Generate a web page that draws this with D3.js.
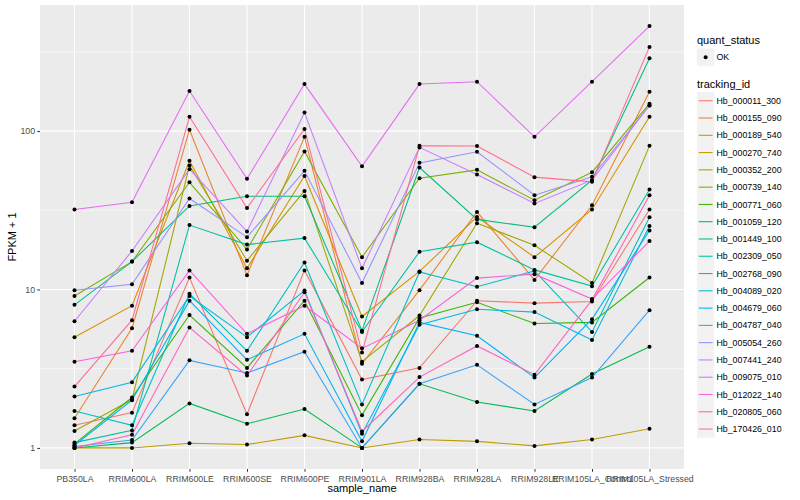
<!DOCTYPE html>
<html>
<head>
<meta charset="utf-8">
<script src="https://cdn.jsdelivr.net/npm/d3@7"></script>
<style>
  body { margin: 0; background: #fff; }
  text { font-family: "Liberation Sans", Arial, sans-serif; }
</style>
</head>
<body>
<div id="chart"></div>
<script>
// FPKM + 1 per sample, one line per tracking_id (log10 y)
const sampleNames = ["PB350LA", "RRIM600LA", "RRIM600LE", "RRIM600SE", "RRIM600PE", "RRIM901LA",
  "RRIM928BA", "RRIM928LA", "RRIM928LE", "RRIM105LA_Control", "RRIM105LA_Stressed"];

const trackingIds = ["Hb_000011_300", "Hb_000155_090", "Hb_000189_540", "Hb_000270_740", "Hb_000352_200",
  "Hb_000739_140", "Hb_000771_060", "Hb_001059_120", "Hb_001449_100", "Hb_002309_050",
  "Hb_002768_090", "Hb_004089_020", "Hb_004679_060", "Hb_004787_040", "Hb_005054_260",
  "Hb_007441_240", "Hb_009075_010", "Hb_012022_140", "Hb_020805_060", "Hb_170426_010"];

// rows follow trackingIds, columns follow sampleNames
const fpkmPlusOne = [
  [1.39, 1.67, 11.9, 1.63, 13.2, 2.7, 3.2, 8.5, 8.2, 8.4, 32],
  [1.54, 5.7, 102, 12.3, 92, 3.4, 9.9, 30.9, 11.5, 34, 177],
  [5.0, 7.9, 64.9, 13.6, 52.1, 6.75, 13, 28.7, 16, 32, 123],
  [1.0, 1.0, 1.07, 1.05, 1.2, 1.0, 1.13, 1.1, 1.03, 1.13, 1.32],
  [1.28, 2.02, 60.7, 15.2, 41.9, 3.5, 6.85, 26.2, 19, 11, 80.7],
  [9.1, 15, 47.5, 17.9, 74.4, 16, 50.4, 56.9, 36.6, 55, 149],
  [1.06, 2.08, 6.9, 3.2, 8.5, 1.61, 6.6, 8.3, 6.1, 6.2, 11.9],
  [1.0, 1.08, 1.91, 1.42, 1.76, 1.0, 2.54, 1.95, 1.71, 2.93, 4.35],
  [8.0, 15, 33.7, 38.8, 38.8, 5.5, 58.9, 27.7, 24.7, 49, 288],
  [1.08, 1.29, 25.5, 19.2, 21.1, 5.4, 17.3, 19.9, 13.3, 10.5, 42.8],
  [1.71, 1.39, 9.4, 4.1, 14.8, 1.88, 12.9, 10.4, 13.1, 5.4, 28.6],
  [2.11, 2.6, 9.1, 5.0, 9.85, 1.23, 6.0, 7.5, 7.2, 4.8, 25.2],
  [1.04, 2.0, 8.5, 3.6, 5.25, 1.1, 6.2, 5.1, 2.78, 6.5, 23.6],
  [1.02, 1.12, 3.57, 2.97, 4.05, 1.0, 2.54, 3.35, 1.88, 2.78, 7.4],
  [9.9, 10.8, 37.5, 21.4, 56.1, 11, 63, 74, 39.4, 51.4, 145],
  [6.3, 17.5, 57.5, 23.2, 131, 13.6, 78.9, 53.2, 34.9, 49, 145],
  [32, 35.5, 179, 50, 198, 60, 198, 205, 92, 205, 460],
  [3.5, 4.1, 13.2, 5.25, 7.9, 4.25, 6.4, 11.8, 12.5, 8.7, 20.2],
  [1.0, 1.21, 5.75, 2.86, 9.6, 1.27, 2.8, 4.4, 2.9, 8.6, 39.4],
  [2.44, 6.4, 123, 32.7, 103, 4.0, 80.7, 80.5, 51.2, 47.8, 340]
];

const yTicks = [1, 10, 100];
const quantStatus = ["OK"];

// ggplot default hue palette for 20 levels
const palette = ["#F8766D", "#EA8331", "#D89000", "#C09B00", "#A3A500", "#7CAE00", "#39B600", "#00BB4E",
  "#00BF7D", "#00C1A3", "#00BFC4", "#00BAE0", "#00B0F6", "#35A2FF", "#9590FF", "#C77CFF",
  "#E76BF3", "#FA62DB", "#FF62BC", "#FF6C91"];

const W = 800, H = 500;
const panel = { left: 40, right: 684, top: 5, bottom: 469 };

const svg = d3.select("#chart").append("svg")
  .attr("width", W).attr("height", H);

const x = d3.scalePoint()
  .domain(sampleNames)
  .range([panel.left, panel.right])
  .padding(0.6);

// 5% expansion on log scale, like ggplot
const allVals = fpkmPlusOne.flat();
const lo = Math.log10(d3.min(allVals)), hi = Math.log10(d3.max(allVals));
const ex = (hi - lo) * 0.05;
const y = d3.scaleLog()
  .domain([Math.pow(10, lo - ex), Math.pow(10, hi + ex)])
  .range([panel.bottom, panel.top]);

svg.append("rect")
  .attr("x", panel.left).attr("y", panel.top)
  .attr("width", panel.right - panel.left).attr("height", panel.bottom - panel.top)
  .attr("fill", "#EBEBEB");

// minor grid at half decades
const minor = [Math.pow(10, -0.5), Math.pow(10, 0.5), Math.pow(10, 1.5), Math.pow(10, 2.5)]
  .filter(v => v > y.domain()[0] && v < y.domain()[1]);
svg.append("g").selectAll("line").data(minor).join("line")
  .attr("x1", panel.left).attr("x2", panel.right)
  .attr("y1", d => y(d)).attr("y2", d => y(d))
  .attr("stroke", "#fff").attr("stroke-width", 0.55);

svg.append("g").selectAll("line").data(yTicks).join("line")
  .attr("x1", panel.left).attr("x2", panel.right)
  .attr("y1", d => y(d)).attr("y2", d => y(d))
  .attr("stroke", "#fff").attr("stroke-width", 1.1);

svg.append("g").selectAll("line").data(sampleNames).join("line")
  .attr("x1", d => x(d)).attr("x2", d => x(d))
  .attr("y1", panel.top).attr("y2", panel.bottom)
  .attr("stroke", "#fff").attr("stroke-width", 1.1);

// axes
const yAxis = svg.append("g")
  .attr("transform", `translate(${panel.left},0)`)
  .call(d3.axisLeft(y).tickValues(yTicks).tickFormat(d3.format("d")).tickSize(2.75).tickPadding(2.2));
const xAxis = svg.append("g")
  .attr("transform", `translate(0,${panel.bottom})`)
  .call(d3.axisBottom(x).tickSize(2.75).tickPadding(2.2));
[xAxis, yAxis].forEach(g => {
  g.select(".domain").remove();
  g.selectAll(".tick line").attr("stroke", "#333").attr("stroke-width", 1);
  g.selectAll(".tick text").attr("fill", "#4D4D4D").style("font-size", "8.8px");
});
xAxis.selectAll(".tick text").attr("dy", "0.9em");

svg.append("text")
  .attr("x", (panel.left + panel.right) / 2).attr("y", 492)
  .attr("text-anchor", "middle").style("font-size", "11px").attr("fill", "#000")
  .text("sample_name");

svg.append("text")
  .attr("transform", `translate(16,${(panel.top + panel.bottom) / 2}) rotate(-90)`)
  .attr("text-anchor", "middle").style("font-size", "11px").attr("fill", "#000")
  .text("FPKM + 1");

// lines then points
const line = d3.line()
  .x((d, i) => x(sampleNames[i]))
  .y(d => y(d));

svg.append("g").selectAll("path").data(fpkmPlusOne).join("path")
  .attr("d", line)
  .attr("fill", "none")
  .attr("stroke", (d, i) => palette[i])
  .attr("stroke-width", 1.07);

const pts = fpkmPlusOne.flatMap(row => row.map((v, i) => ({ s: sampleNames[i], v })));
svg.append("g").selectAll("circle").data(pts).join("circle")
  .attr("cx", d => x(d.s)).attr("cy", d => y(d.v))
  .attr("r", 2).attr("fill", "#000");

// legends
const lg = svg.append("g").attr("transform", "translate(697,0)");
const key = 17.28;

lg.append("text").attr("x", 0).attr("y", 44)
  .style("font-size", "11px").text("quant_status");
const q = lg.append("g").selectAll("g").data(quantStatus).join("g")
  .attr("transform", (d, i) => `translate(0,${48.5 + i * key})`);
q.append("rect").attr("width", key).attr("height", key).attr("fill", "#F2F2F2");
q.append("circle").attr("cx", key / 2).attr("cy", key / 2).attr("r", 2).attr("fill", "#000");
q.append("text").attr("x", key + 2.2).attr("y", key / 2 + 3.1)
  .style("font-size", "8.8px").attr("fill", "#000").text(d => d);

lg.append("text").attr("x", 0).attr("y", 88)
  .style("font-size", "11px").text("tracking_id");
const t = lg.append("g").selectAll("g").data(trackingIds).join("g")
  .attr("transform", (d, i) => `translate(0,${92.1 + i * key})`);
t.append("rect").attr("width", key).attr("height", key).attr("fill", "#F2F2F2");
t.append("line")
  .attr("x1", 1.7).attr("x2", key - 1.7)
  .attr("y1", key / 2).attr("y2", key / 2)
  .attr("stroke", (d, i) => palette[i]).attr("stroke-width", 1.07);
t.append("text").attr("x", key + 2.2).attr("y", key / 2 + 3.1)
  .style("font-size", "8.8px").attr("fill", "#000").text(d => d);
</script>
</body>
</html>
